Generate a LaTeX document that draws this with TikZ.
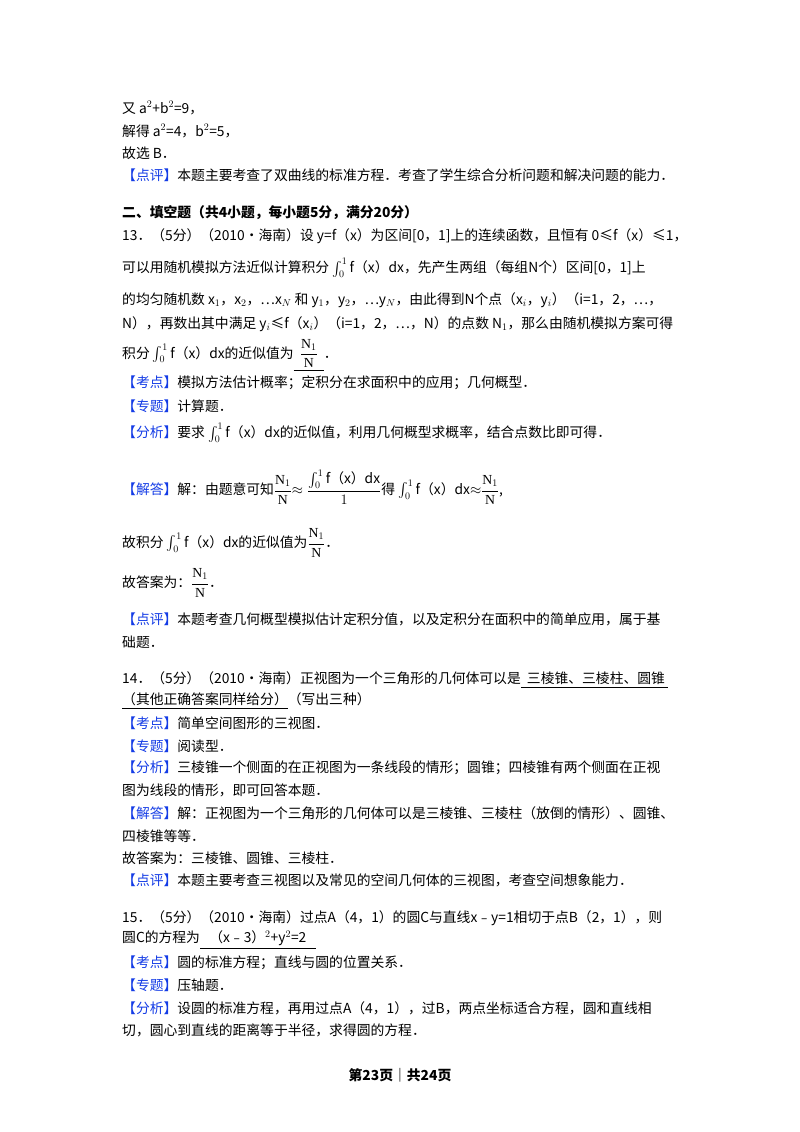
\documentclass[tikz,border=0pt]{standalone}
\usepackage{amsmath}
\usepackage{fontspec}
\setmainfont{Liberation Serif}
\newfontfamily\cjk{Noto Sans CJK SC}
\definecolor{kb}{RGB}{20,60,230}
\newcommand{\tg}[1]{{\color{kb}【#1】}}
\newcommand{\fr}{$\dfrac{\mathrm{N}_1}{\mathrm{N}}$}
\newcommand{\ig}{$\int_0^1$\,f（x）dx}
\begin{document}
\begin{tikzpicture}[x=1pt,y=-1pt,
  ln/.style={anchor=west,inner sep=0pt,font=\cjk\fontsize{13.8}{15}\selectfont}]
\useasboundingbox[fill=white] (0,0) rectangle (800,1132);
\node[ln] (a1) at (122,108) {又 a$^2$+b$^2$=9，};
\node[ln] (a2) at (122,131) {解得 a$^2$=4，b$^2$=5，};
\node[ln] (a3) at (122,153) {故选 B．};
\node[ln] (a4) at (122,175) {\tg{点评}本题主要考查了双曲线的标准方程．考查了学生综合分析问题和解决问题的能力．};
\node[ln,font=\cjk\bfseries\fontsize{13.8}{15}\selectfont] (h2) at (122,213) {二、填空题（共4小题，每小题5分，满分20分）};
\node[ln] (b1) at (122,236) {13．（5分）（2010•海南）设 y=f（x）为区间[0，1]上的连续函数，且恒有 0≤f（x）≤1，};
\node[ln] (b2) at (122,268) {可以用随机模拟方法近似计算积分 \ig，先产生两组（每组N个）区间[0，1]上};
\node[ln] (b3) at (122,300) {的均匀随机数 x$_1$，x$_2$，…x$_N$ 和 y$_1$，y$_2$，…y$_N$，由此得到N个点（x$_i$，y$_i$）（i=1，2，…，};
\node[ln] (b4) at (122,324) {N），再数出其中满足 y$_i$≤f（x$_i$）（i=1，2，…，N）的点数 N$_1$，那么由随机模拟方案可得};
\node[ln] (b5) at (122,355) {积分 \ig 的近似值为\underline{\ \ \fr\ \ }．};
\node[ln] (b6) at (122,383) {\tg{考点}模拟方法估计概率；定积分在求面积中的应用；几何概型．};
\node[ln] (b7) at (122,406) {\tg{专题}计算题．};
\node[ln] (b8) at (122,433) {\tg{分析}要求 \ig 的近似值，利用几何概型求概率，结合点数比即可得．};
\node[ln] (b9) at (122,487) {\tg{解答}解：由题意可知\fr$\approx\dfrac{\int_0^1\text{f（x）dx}}{1}$得 \ig$\approx$\fr,};
\node[ln] (b10) at (122,543) {故积分 \ig 的近似值为\fr．};
\node[ln] (b11) at (122,583) {故答案为：\fr．};
\node[ln] (b12) at (122,619) {\tg{点评}本题考查几何概型模拟估计定积分值，以及定积分在面积中的简单应用，属于基};
\node[ln] (b13) at (122,642) {础题．};
\node[ln] (c1) at (122,680) {14．（5分）（2010•海南）正视图为一个三角形的几何体可以是\underline{\ \ 三棱锥、三棱柱、圆锥\ }};
\node[ln] (c2) at (122,701) {\underline{（其他正确答案同样给分）}（写出三种）};
\node[ln] (c3) at (122,723) {\tg{考点}简单空间图形的三视图．};
\node[ln] (c4) at (122,746) {\tg{专题}阅读型．};
\node[ln] (c5) at (122,768) {\tg{分析}三棱锥一个侧面的在正视图为一条线段的情形；圆锥；四棱锥有两个侧面在正视};
\node[ln] (c6) at (122,790) {图为线段的情形，即可回答本题．};
\node[ln] (c7) at (122,813) {\tg{解答}解：正视图为一个三角形的几何体可以是三棱锥、三棱柱（放倒的情形）、圆锥、};
\node[ln] (c8) at (122,836) {四棱锥等等．};
\node[ln] (c9) at (122,858) {故答案为：三棱锥、圆锥、三棱柱．};
\node[ln] (c10) at (122,880) {\tg{点评}本题主要考查三视图以及常见的空间几何体的三视图，考查空间想象能力．};
\node[ln] (d1) at (122,918) {15．（5分）（2010•海南）过点A（4，1）的圆C与直线x﹣y=1相切于点B（2，1），则};
\node[ln] (d2) at (122,940) {圆C的方程为\underline{\ \ \ （x﹣3）$^2$+y$^2$=2\ \ \ }};
\node[ln] (d3) at (122,963) {\tg{考点}圆的标准方程；直线与圆的位置关系．};
\node[ln] (d4) at (122,985) {\tg{专题}压轴题．};
\node[ln] (d5) at (122,1008) {\tg{分析}设圆的标准方程，再用过点A（4，1），过B，两点坐标适合方程，圆和直线相};
\node[ln] (d6) at (122,1030) {切，圆心到直线的距离等于半径，求得圆的方程．};
\node[inner sep=0pt,font=\cjk\bfseries\fontsize{13.8}{15}\selectfont] (pg) at (400,1075) {第23页｜共24页};
\end{tikzpicture}
\end{document}
